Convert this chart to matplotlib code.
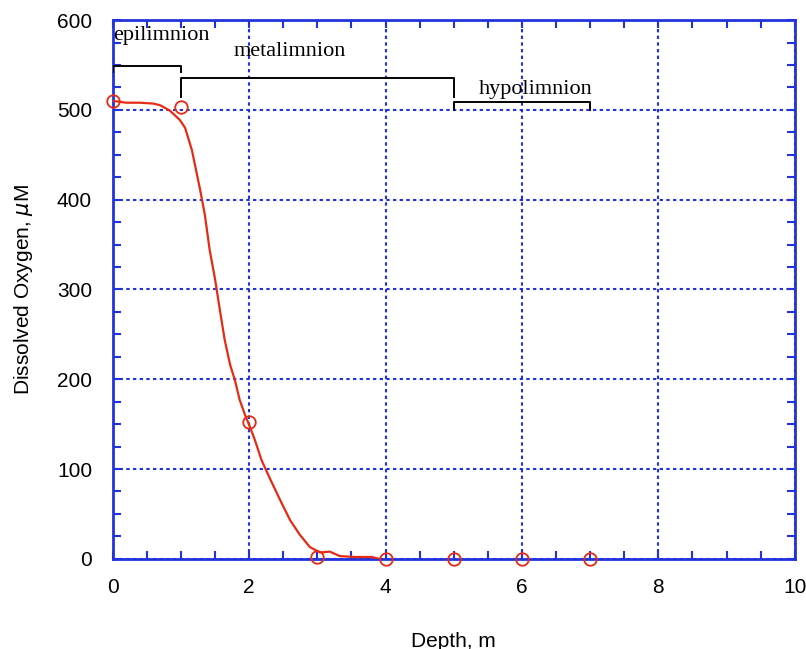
import matplotlib.pyplot as plt
from matplotlib.ticker import MultipleLocator

# Measured dissolved oxygen profile (circles)
depth_obs = [0, 1, 2, 3, 4, 5, 6, 7]
oxygen_obs = [510, 503, 152, 2, 0, 0, 0, 0]

# Smoothed profile (red line)
depth_fit = [0.0, 0.2, 0.4, 0.6, 0.7, 0.84, 0.98, 1.06, 1.16, 1.28, 1.35, 1.42, 1.5,
             1.57, 1.64, 1.72, 1.79, 1.86, 1.94, 2.0, 2.08, 2.18, 2.3, 2.45, 2.6,
             2.74, 2.89, 3.04, 3.18, 3.33, 3.55, 3.8, 3.9]
oxygen_fit = [510, 508, 508, 507, 505, 499, 489, 480, 455, 411, 383, 344, 311,
              277, 244, 216, 199, 177, 160, 149, 133, 110, 90, 66, 43,
              27, 13, 7, 8, 3, 2, 2, 0]

# Layer brackets: (label, x start, x end, bar y, tick end y, label x, label y, align)
layers = [
    ("epilimnion", 0, 1, 549, 542, 0.0, 583, "left"),
    ("metalimnion", 1, 5, 535, 514, 2.6, 565, "center"),
    ("hypolimnion", 5, 7, 509, 500, 6.2, 523, "center"),
]

blue = "#2233dd"
red = "#e62a14"

fig = plt.figure(figsize=(8.06, 6.49), dpi=100)
ax = fig.add_axes([0.140, 0.139, 0.846, 0.830])

ax.plot(depth_fit, oxygen_fit, color=red, lw=1.6, zorder=3)
ax.plot(depth_obs, oxygen_obs, 'o', mfc='none', mec=red, ms=9, mew=1.3, zorder=4,
        clip_on=False)

for name, x0, x1, yb, ye, tx, ty, ha in layers:
    ax.plot([x0, x0, x1, x1], [ye, yb, yb, ye], color='black', lw=1.4, zorder=3)
    ax.text(tx, ty, name, ha=ha, va='center', family='Liberation Serif', fontsize=16)

ax.set_xlim(0, 10)
ax.set_ylim(0, 600)
ax.xaxis.set_major_locator(MultipleLocator(2))
ax.xaxis.set_minor_locator(MultipleLocator(0.5))
ax.yaxis.set_major_locator(MultipleLocator(100))
ax.yaxis.set_minor_locator(MultipleLocator(25))

ax.grid(True, which='major', color=blue, linestyle=(0, (1.6, 1.6)), linewidth=1.5)
ax.set_axisbelow(True)

for s in ax.spines.values():
    s.set_color(blue)
    s.set_linewidth(2)

ax.tick_params(which='both', direction='in', top=True, right=True, color=blue,
               labelsize=15, width=1.5, labelfontfamily='Liberation Sans')
ax.tick_params(which='both', length=6)
ax.tick_params(axis='x', which='major', pad=14)
ax.tick_params(axis='y', which='major', pad=15)

ax.set_xlabel('Depth, m', fontsize=15, family='Liberation Sans')
ax.xaxis.set_label_coords(0.5, -0.135)
ax.set_ylabel(r'Dissolved Oxygen, $\mu$M', fontsize=15, family='Liberation Sans')
ax.yaxis.set_label_coords(-0.114, 0.5)

fig.savefig('out.png', dpi=100)
